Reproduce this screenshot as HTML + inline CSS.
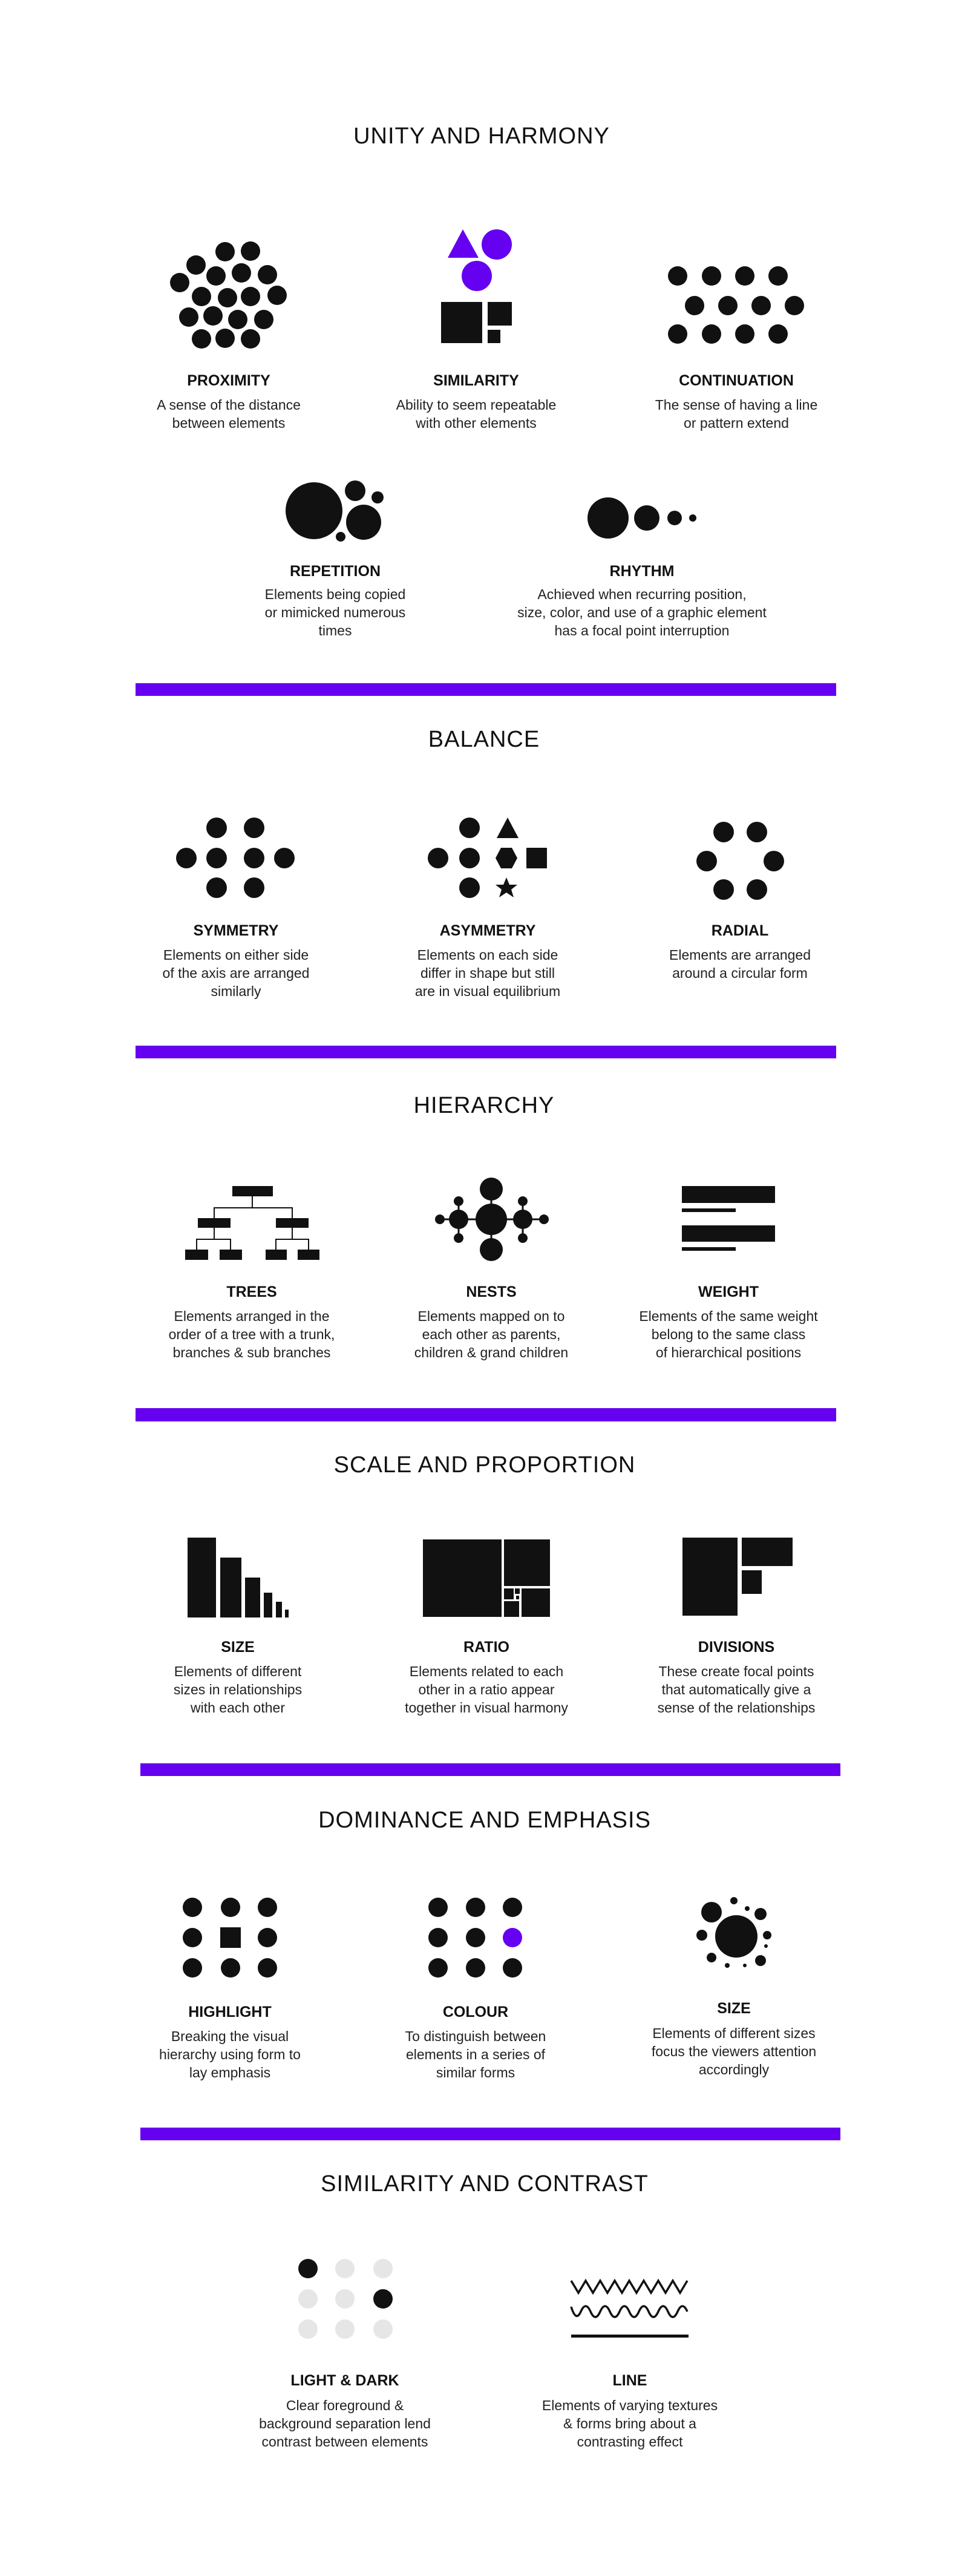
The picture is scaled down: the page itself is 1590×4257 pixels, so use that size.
<!DOCTYPE html>
<html><head><meta charset="utf-8">
<style>
html,body{margin:0;padding:0;background:#fff;}
body{width:1590px;height:4257px;position:relative;overflow:hidden;font-family:"Liberation Sans",sans-serif;color:#111;}
.t{position:absolute;transform:translateX(-50%);white-space:nowrap;text-align:center;}
.h{font-size:38px;line-height:46px;letter-spacing:1px;}
.l{font-size:25px;font-weight:bold;line-height:30px;}
.d{font-size:23px;line-height:30px;color:#222;}
svg{position:absolute;left:0;top:0;}
</style></head><body>
<svg width="1590" height="4257" viewBox="0 0 1590 4257">
<g fill="#6600f0">
<rect x="224" y="1129" width="1158" height="21"/>
<rect x="224" y="1728" width="1158" height="21"/>
<rect x="224" y="2327" width="1158" height="22"/>
<rect x="232" y="2914" width="1157" height="21"/>
<rect x="232" y="3516" width="1157" height="21"/>
</g>
<g fill="#111">
<!-- proximity -->
<circle cx="372" cy="416" r="16"/><circle cx="414" cy="415" r="16"/><circle cx="324" cy="438" r="16"/><circle cx="357" cy="456" r="16"/><circle cx="399" cy="451" r="16"/><circle cx="442" cy="454" r="16"/><circle cx="297" cy="467" r="16"/><circle cx="333" cy="490" r="16"/><circle cx="376" cy="492" r="16"/><circle cx="414" cy="490" r="16"/><circle cx="458" cy="488" r="16"/><circle cx="312" cy="524" r="16"/><circle cx="352" cy="522" r="16"/><circle cx="393" cy="528" r="16"/><circle cx="436" cy="528" r="16"/><circle cx="333" cy="560" r="16"/><circle cx="372" cy="559" r="16"/><circle cx="414" cy="560" r="16"/>
<!-- similarity -->
<rect x="729" y="499" width="68" height="68"/><rect x="806" y="499" width="40" height="39"/><rect x="806" y="545" width="21" height="22"/>
<!-- continuation -->
<circle cx="1120" cy="456" r="16"/><circle cx="1176" cy="456" r="16"/><circle cx="1231" cy="456" r="16"/><circle cx="1286" cy="456" r="16"/>
<circle cx="1148" cy="505" r="16"/><circle cx="1203" cy="505" r="16"/><circle cx="1258" cy="505" r="16"/><circle cx="1313" cy="505" r="16"/>
<circle cx="1120" cy="552" r="16"/><circle cx="1176" cy="552" r="16"/><circle cx="1231" cy="552" r="16"/><circle cx="1286" cy="552" r="16"/>
<!-- repetition -->
<circle cx="519" cy="844" r="47"/><circle cx="601" cy="863" r="29"/><circle cx="587" cy="811" r="17"/><circle cx="624" cy="822" r="10"/><circle cx="563" cy="887" r="8"/>
<!-- rhythm -->
<circle cx="1005" cy="856" r="34"/><circle cx="1069" cy="856" r="21"/><circle cx="1115" cy="856" r="12"/><circle cx="1145" cy="856" r="6"/>
<!-- symmetry -->
<circle cx="358" cy="1368" r="17"/><circle cx="420" cy="1368" r="17"/>
<circle cx="308" cy="1418" r="17"/><circle cx="358" cy="1418" r="17"/><circle cx="420" cy="1418" r="17"/><circle cx="470" cy="1418" r="17"/>
<circle cx="358" cy="1467" r="17"/><circle cx="420" cy="1467" r="17"/>
<!-- asymmetry -->
<circle cx="776" cy="1368" r="17"/><polygon points="839,1351 857,1385 821,1385"/>
<circle cx="724" cy="1418" r="17"/><circle cx="776" cy="1418" r="17"/>
<polygon points="828,1401 846,1401 855,1418 846,1435 828,1435 819,1418"/>
<rect x="870" y="1401" width="34" height="34"/>
<circle cx="776" cy="1467" r="17"/>
<polygon points="837,1450 842,1462 855,1462 845,1470 849,1483 837,1475 825,1483 829,1470 819,1462 832,1462"/>
<!-- radial -->
<circle cx="1196" cy="1375" r="17"/><circle cx="1251" cy="1375" r="17"/><circle cx="1168" cy="1423" r="17"/><circle cx="1279" cy="1423" r="17"/><circle cx="1196" cy="1470" r="17"/><circle cx="1251" cy="1470" r="17"/>
<!-- trees -->
<rect x="384" y="1960" width="67" height="17"/>
<rect x="327" y="2013" width="54" height="16"/><rect x="456" y="2013" width="54" height="16"/>
<rect x="306" y="2065" width="38" height="17"/><rect x="363" y="2065" width="37" height="17"/><rect x="439" y="2065" width="35" height="17"/><rect x="492" y="2065" width="36" height="17"/>
</g>
<g stroke="#111" stroke-width="2" fill="none">
<path d="M417 1977V1996M354 2013V1996H483V2013M354 2029V2048M325 2065V2048H381V2065M483 2029V2048M456 2065V2048H510V2065"/>
</g>
<!-- nests -->
<g stroke="#111" stroke-width="3"><path d="M727 2015H899M812 1965V2065M758 1985V2046M864 1985V2046"/></g>
<g fill="#111">
<circle cx="812" cy="2015" r="26"/><circle cx="812" cy="1965" r="19"/><circle cx="812" cy="2065" r="19"/>
<circle cx="758" cy="2015" r="16"/><circle cx="864" cy="2015" r="16"/>
<circle cx="758" cy="1985" r="8"/><circle cx="758" cy="2046" r="8"/><circle cx="864" cy="1985" r="8"/><circle cx="864" cy="2046" r="8"/>
<circle cx="727" cy="2015" r="8"/><circle cx="899" cy="2015" r="8"/>
<!-- weight -->
<rect x="1127" y="1960" width="154" height="28"/><rect x="1127" y="1997" width="89" height="6"/>
<rect x="1127" y="2025" width="154" height="27"/><rect x="1127" y="2061" width="89" height="6"/>
<!-- size bars -->
<rect x="310" y="2541" width="47" height="132"/><rect x="364" y="2574" width="35" height="99"/><rect x="405" y="2607" width="25" height="66"/><rect x="436" y="2632" width="14" height="41"/><rect x="456" y="2647" width="10" height="26"/><rect x="471" y="2660" width="6" height="13"/>
<!-- ratio -->
<rect x="699" y="2544" width="130" height="128"/><rect x="833" y="2544" width="76" height="77"/><rect x="862" y="2625" width="47" height="47"/><rect x="833" y="2646" width="25" height="26"/><rect x="833" y="2625" width="16" height="18"/><rect x="851" y="2625" width="8" height="9"/><rect x="853" y="2637" width="5" height="6"/>
<!-- divisions -->
<rect x="1128" y="2541" width="91" height="129"/><rect x="1226" y="2541" width="84" height="47"/><rect x="1226" y="2595" width="33" height="39"/>
<!-- highlight -->
<circle cx="318" cy="3152" r="16"/><circle cx="381" cy="3152" r="16"/><circle cx="442" cy="3152" r="16"/>
<circle cx="318" cy="3202" r="16"/><rect x="364" y="3185" width="34" height="34"/><circle cx="442" cy="3202" r="16"/>
<circle cx="318" cy="3252" r="16"/><circle cx="381" cy="3252" r="16"/><circle cx="442" cy="3252" r="16"/>
<!-- colour -->
<circle cx="724" cy="3152" r="16"/><circle cx="786" cy="3152" r="16"/><circle cx="847" cy="3152" r="16"/>
<circle cx="724" cy="3202" r="16"/><circle cx="786" cy="3202" r="16"/><circle cx="847" cy="3202" r="16" fill="#6600f0"/>
<circle cx="724" cy="3252" r="16"/><circle cx="786" cy="3252" r="16"/><circle cx="847" cy="3252" r="16"/>
<!-- size dominance -->
<circle cx="1217" cy="3200" r="35"/><circle cx="1176" cy="3160" r="17"/><circle cx="1257" cy="3163" r="10"/><circle cx="1213" cy="3141" r="6"/><circle cx="1235" cy="3154" r="4"/><circle cx="1160" cy="3198" r="9"/><circle cx="1268" cy="3198" r="7"/><circle cx="1266" cy="3216" r="3"/><circle cx="1176" cy="3235" r="8"/><circle cx="1257" cy="3240" r="9"/><circle cx="1202" cy="3248" r="4"/><circle cx="1231" cy="3248" r="3"/>
<!-- light & dark -->
<circle cx="509" cy="3749" r="16"/><circle cx="570" cy="3749" r="16" fill="#e6e6e6"/><circle cx="633" cy="3749" r="16" fill="#e6e6e6"/>
<circle cx="509" cy="3799" r="16" fill="#e6e6e6"/><circle cx="570" cy="3799" r="16" fill="#e6e6e6"/><circle cx="633" cy="3799" r="16"/>
<circle cx="509" cy="3849" r="16" fill="#e6e6e6"/><circle cx="570" cy="3849" r="16" fill="#e6e6e6"/><circle cx="633" cy="3849" r="16" fill="#e6e6e6"/>
<rect x="944" y="3858" width="194" height="5"/>
</g>
<g fill="#6600f0">
<polygon points="765,379 791,426 740,426"/><circle cx="821" cy="404" r="25"/><circle cx="788" cy="456" r="25"/>
</g>
<g stroke="#111" stroke-width="3.5" fill="none" stroke-linejoin="miter">
<polyline points="944,3769 956,3789 968,3769 980,3789 992,3769 1004,3789 1016,3769 1028,3789 1040,3769 1052,3789 1064,3769 1076,3789 1088,3769 1100,3789 1112,3769 1124,3789 1136,3769"/>
<path d="M944 3812 q8 26 16 8 t16 0 t16 0 t16 0 t16 0 t16 0 t16 0 t16 0 t16 0 t16 0 t16 0 t16 0"/>
</g>
</svg>

<div class="t h" style="left:796px;top:202px">UNITY AND HARMONY</div>
<div class="t l" style="left:378px;top:614px">PROXIMITY</div>
<div class="t d" style="left:378px;top:654px">A sense of the distance<br>between elements</div>
<div class="t l" style="left:787px;top:614px">SIMILARITY</div>
<div class="t d" style="left:787px;top:654px">Ability to seem repeatable<br>with other elements</div>
<div class="t l" style="left:1217px;top:614px">CONTINUATION</div>
<div class="t d" style="left:1217px;top:654px">The sense of having a line<br>or pattern extend</div>
<div class="t l" style="left:554px;top:929px">REPETITION</div>
<div class="t d" style="left:554px;top:967px">Elements being copied<br>or mimicked numerous<br>times</div>
<div class="t l" style="left:1061px;top:929px">RHYTHM</div>
<div class="t d" style="left:1061px;top:967px">Achieved when recurring position,<br>size, color, and use of a graphic element<br>has a focal point interruption</div>

<div class="t h" style="left:800px;top:1199px">BALANCE</div>
<div class="t l" style="left:390px;top:1523px">SYMMETRY</div>
<div class="t d" style="left:390px;top:1563px">Elements on either side<br>of the axis are arranged<br>similarly</div>
<div class="t l" style="left:806px;top:1523px">ASYMMETRY</div>
<div class="t d" style="left:806px;top:1563px">Elements on each side<br>differ in shape but still<br>are in visual equilibrium</div>
<div class="t l" style="left:1223px;top:1523px">RADIAL</div>
<div class="t d" style="left:1223px;top:1563px">Elements are arranged<br>around a circular form</div>

<div class="t h" style="left:800px;top:1804px">HIERARCHY</div>
<div class="t l" style="left:416px;top:2120px">TREES</div>
<div class="t d" style="left:416px;top:2160px">Elements arranged in the<br>order of a tree with a trunk,<br>branches &amp; sub branches</div>
<div class="t l" style="left:812px;top:2120px">NESTS</div>
<div class="t d" style="left:812px;top:2160px">Elements mapped on to<br>each other as parents,<br>children &amp; grand children</div>
<div class="t l" style="left:1204px;top:2120px">WEIGHT</div>
<div class="t d" style="left:1204px;top:2160px">Elements of the same weight<br>belong to the same class<br>of hierarchical positions</div>

<div class="t h" style="left:801px;top:2398px">SCALE AND PROPORTION</div>
<div class="t l" style="left:393px;top:2707px">SIZE</div>
<div class="t d" style="left:393px;top:2747px">Elements of different<br>sizes in relationships<br>with each other</div>
<div class="t l" style="left:804px;top:2707px">RATIO</div>
<div class="t d" style="left:804px;top:2747px">Elements related to each<br>other in a ratio appear<br>together in visual harmony</div>
<div class="t l" style="left:1217px;top:2707px">DIVISIONS</div>
<div class="t d" style="left:1217px;top:2747px">These create focal points<br>that automatically give a<br>sense of the relationships</div>

<div class="t h" style="left:801px;top:2985px">DOMINANCE AND EMPHASIS</div>
<div class="t l" style="left:380px;top:3310px">HIGHLIGHT</div>
<div class="t d" style="left:380px;top:3350px">Breaking the visual<br>hierarchy using form to<br>lay emphasis</div>
<div class="t l" style="left:786px;top:3310px">COLOUR</div>
<div class="t d" style="left:786px;top:3350px">To distinguish between<br>elements in a series of<br>similar forms</div>
<div class="t l" style="left:1213px;top:3304px">SIZE</div>
<div class="t d" style="left:1213px;top:3345px">Elements of different sizes<br>focus the viewers attention<br>accordingly</div>

<div class="t h" style="left:801px;top:3586px">SIMILARITY AND CONTRAST</div>
<div class="t l" style="left:570px;top:3919px">LIGHT &amp; DARK</div>
<div class="t d" style="left:570px;top:3960px">Clear foreground &amp;<br>background separation lend<br>contrast between elements</div>
<div class="t l" style="left:1041px;top:3919px">LINE</div>
<div class="t d" style="left:1041px;top:3960px">Elements of varying textures<br>&amp; forms bring about a<br>contrasting effect</div>
</body></html>
